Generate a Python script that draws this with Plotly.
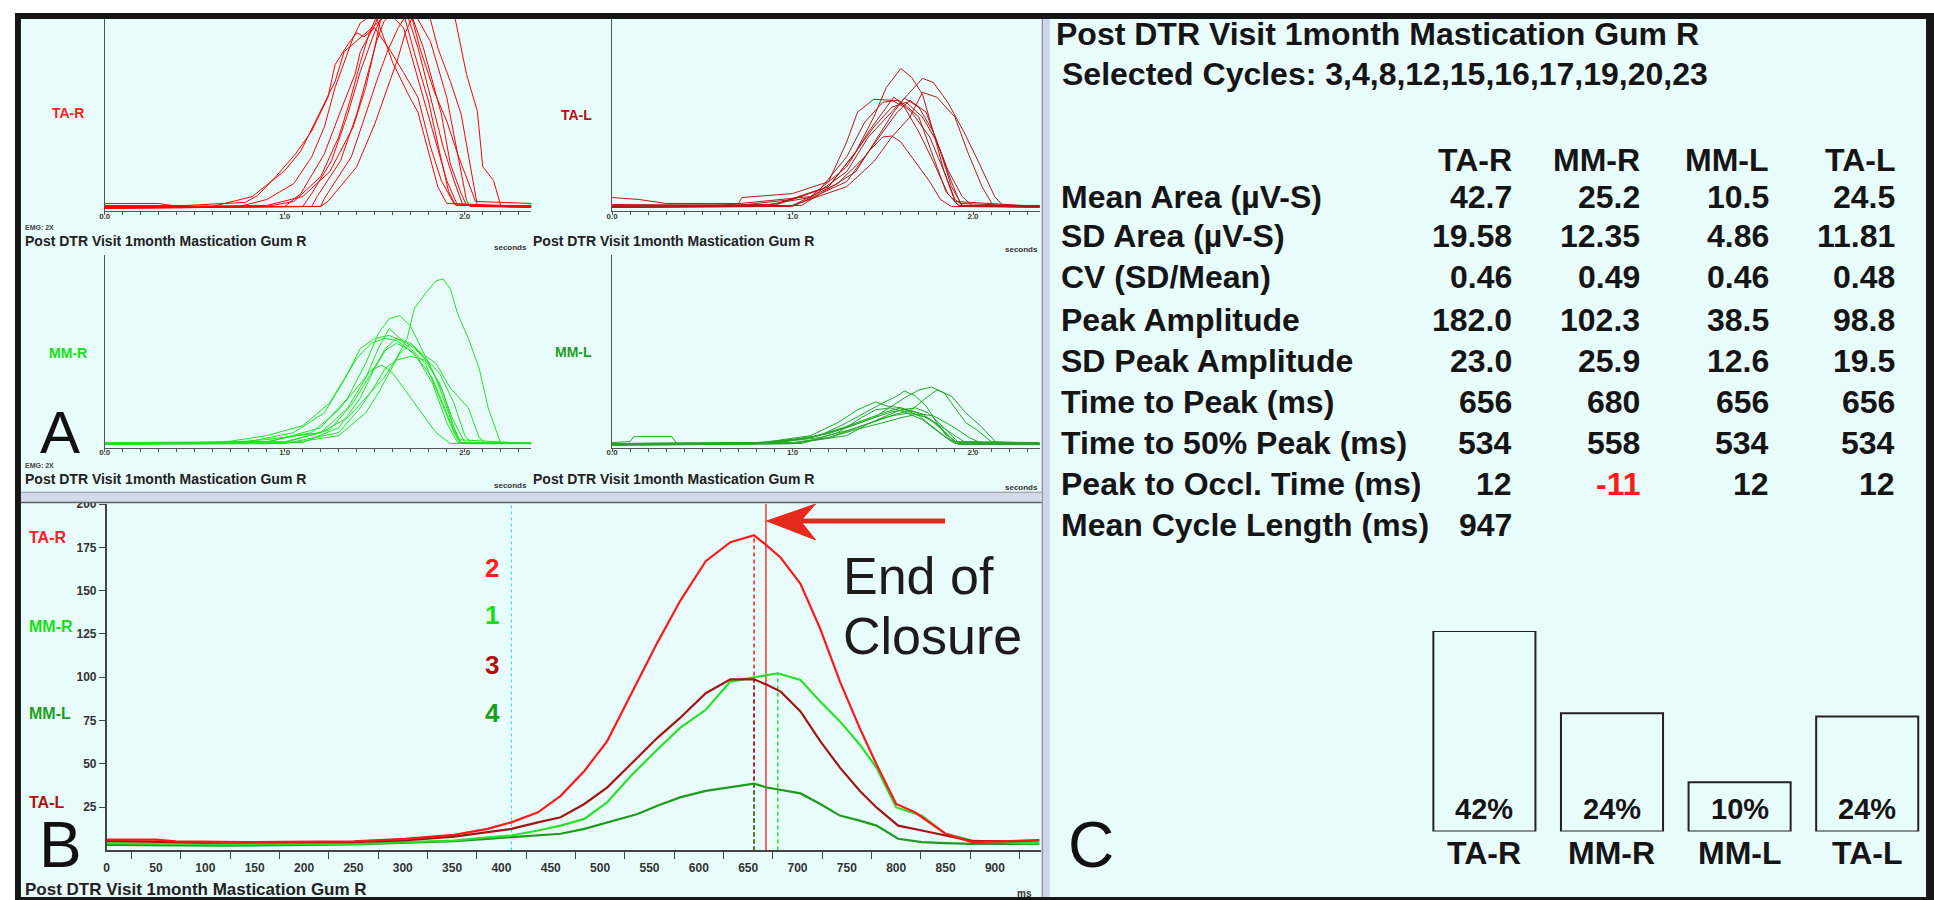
import plotly.graph_objects as go

W, H = 1934, 900
FONT = "Liberation Sans, Arial, Helvetica, sans-serif"
BG = "#E8FCFC"

# ---------------------------------------------------------------- data
muscles = ["TA-R", "MM-R", "MM-L", "TA-L"]
caption = "Post DTR Visit 1month Mastication Gum R"
selected_cycles = "Selected Cycles: 3,4,8,12,15,16,17,19,20,23"

# Panel A - individual selected cycles: (time in s, amplitude in display units)
ta_r_cycles = [
    [(0, 6), (0.45, 6), (0.78, 9), (0.85, 16), (0.95, 35), (1.06, 58), (1.15, 81), (1.24, 115), (1.28, 148), (1.35, 168), (1.40, 180), (1.44, 176), (1.50, 185), (1.59, 161), (1.66, 140), (1.74, 115), (1.81, 65), (1.87, 31), (1.94, 8), (2.1, 5), (2.37, 6)],
    [(0, 5), (0.6, 5), (0.82, 15), (1.0, 41), (1.09, 61), (1.20, 101), (1.28, 131), (1.33, 161), (1.44, 178), (1.52, 190), (1.58, 200), (1.66, 185), (1.77, 115), (1.85, 65), (1.90, 31), (1.96, 6), (2.37, 5)],
    [(0, 4), (1.0, 5), (1.09, 18), (1.22, 58), (1.31, 101), (1.39, 138), (1.42, 161), (1.50, 188), (1.55, 210), (1.65, 215), (1.74, 165), (1.81, 115), (1.88, 65), (1.94, 31), (1.99, 6), (2.37, 5)],
    [(0, 4), (1.1, 5), (1.15, 18), (1.26, 51), (1.35, 98), (1.42, 141), (1.50, 181), (1.56, 205), (1.68, 210), (1.77, 165), (1.87, 98), (1.92, 48), (1.98, 18), (2.01, 6), (2.37, 4)],
    [(0, 3), (1.15, 5), (1.18, 15), (1.31, 51), (1.40, 98), (1.46, 138), (1.51, 171), (1.55, 191), (1.62, 205), (1.72, 200), (1.81, 171), (1.90, 115), (1.96, 58), (2.01, 11), (2.03, 5), (2.37, 4)],
    [(0, 3), (1.2, 5), (1.22, 13), (1.37, 55), (1.45, 98), (1.51, 131), (1.57, 161), (1.63, 185), (1.70, 205), (1.80, 200), (1.85, 165), (1.92, 131), (1.98, 98), (2.03, 48), (2.07, 6), (2.37, 4)],
    [(0, 5), (1.2, 5), (1.24, 10), (1.40, 45), (1.50, 88), (1.57, 125), (1.63, 155), (1.67, 180), (1.72, 200), (1.90, 210), (1.94, 200), (2.01, 138), (2.07, 101), (2.10, 45), (2.16, 31), (2.20, 6), (2.37, 5)],
    [(0, 8), (0.3, 8), (0.4, 5), (0.9, 6), (1.1, 15), (1.25, 40), (1.38, 85), (1.45, 125), (1.50, 165), (1.54, 200), (1.70, 200), (1.75, 165), (1.83, 121), (1.90, 91), (1.96, 58), (2.06, 10), (2.37, 8)],
    [(0, 4), (0.75, 5), (0.9, 12), (1.05, 28), (1.15, 55), (1.22, 85), (1.28, 125), (1.33, 150), (1.38, 175), (1.42, 190), (1.50, 200), (1.60, 150), (1.68, 120), (1.74, 100), (1.80, 60), (1.85, 25), (1.90, 8), (2.37, 5)],
    [(0, 5), (0.9, 5), (1.05, 10), (1.20, 35), (1.30, 75), (1.36, 110), (1.42, 150), (1.47, 180), (1.52, 200), (1.66, 200), (1.72, 160), (1.80, 110), (1.86, 60), (1.91, 20), (1.95, 6), (2.37, 6)],
]
ta_l_cycles = [
    [(0, 5), (0.7, 6), (1.0, 12), (1.2, 25), (1.35, 60), (1.45, 95), (1.52, 125), (1.60, 144), (1.66, 135), (1.72, 118), (1.78, 80), (1.84, 40), (1.90, 12), (1.95, 5), (2.37, 5)],
    [(0, 4), (0.8, 5), (1.1, 14), (1.30, 40), (1.42, 75), (1.55, 100), (1.64, 118), (1.72, 134), (1.78, 130), (1.86, 110), (1.95, 80), (2.03, 50), (2.12, 15), (2.17, 5), (2.37, 6)],
    [(0, 14), (0.15, 12), (0.3, 8), (0.7, 8), (0.72, 14), (1.0, 18), (1.2, 30), (1.30, 70), (1.36, 100), (1.45, 113), (1.55, 112), (1.62, 105), (1.70, 80), (1.78, 50), (1.86, 18), (1.92, 6), (2.37, 5)],
    [(0, 6), (0.9, 7), (1.15, 22), (1.30, 55), (1.40, 90), (1.50, 110), (1.58, 112), (1.66, 100), (1.76, 75), (1.84, 40), (1.90, 10), (2.37, 5)],
    [(0, 5), (0.9, 6), (1.2, 25), (1.35, 60), (1.45, 85), (1.55, 105), (1.63, 110), (1.72, 95), (1.80, 70), (1.88, 30), (1.93, 8), (2.37, 5)],
    [(0, 4), (1.0, 6), (1.25, 28), (1.40, 55), (1.50, 80), (1.58, 100), (1.65, 112), (1.74, 100), (1.82, 60), (1.88, 25), (1.94, 6), (2.37, 4)],
    [(0, 5), (1.0, 6), (1.3, 25), (1.45, 50), (1.55, 75), (1.65, 95), (1.72, 120), (1.80, 115), (1.90, 95), (1.97, 60), (2.05, 25), (2.11, 6), (2.37, 5)],
    [(0, 4), (1.0, 5), (1.3, 30), (1.42, 60), (1.50, 75), (1.55, 76), (1.60, 70), (1.68, 50), (1.76, 30), (1.82, 12), (1.88, 5), (2.37, 4)],
    [(0, 7), (0.6, 6), (1.1, 15), (1.3, 45), (1.42, 80), (1.50, 100), (1.56, 115), (1.62, 108), (1.70, 95), (1.78, 55), (1.85, 20), (1.92, 6), (2.37, 6)],
    [(0, 5), (1.05, 6), (1.35, 40), (1.48, 78), (1.56, 100), (1.62, 114), (1.70, 105), (1.78, 80), (1.86, 42), (1.94, 15), (2.0, 5), (2.37, 5)],
]
mm_r_cycles = [
    [(0, 4), (0.6, 4), (0.9, 8), (1.2, 15), (1.35, 30), (1.45, 50), (1.55, 70), (1.62, 90), (1.68, 110), (1.72, 140), (1.78, 155), (1.84, 168), (1.88, 170), (1.92, 160), (1.96, 135), (2.02, 110), (2.08, 80), (2.13, 40), (2.18, 15), (2.2, 4), (2.37, 4)],
    [(0, 4), (0.65, 5), (0.9, 12), (1.1, 22), (1.25, 45), (1.35, 75), (1.42, 100), (1.50, 110), (1.58, 113), (1.64, 108), (1.70, 100), (1.78, 85), (1.86, 50), (1.94, 15), (1.98, 4), (2.37, 4)],
    [(0, 3), (0.8, 6), (1.05, 15), (1.22, 35), (1.32, 65), (1.40, 90), (1.48, 105), (1.55, 110), (1.62, 108), (1.72, 95), (1.82, 65), (1.90, 25), (1.96, 5), (2.37, 4)],
    [(0, 4), (0.9, 5), (1.2, 20), (1.35, 50), (1.45, 85), (1.52, 115), (1.58, 130), (1.64, 133), (1.70, 122), (1.76, 100), (1.84, 70), (1.92, 30), (1.97, 5), (2.37, 4)],
    [(0, 4), (1.0, 5), (1.25, 18), (1.38, 45), (1.48, 75), (1.56, 100), (1.62, 110), (1.70, 105), (1.78, 90), (1.86, 75), (1.94, 45), (2.00, 12), (2.04, 4), (2.37, 4)],
    [(0, 3), (1.0, 4), (1.3, 15), (1.42, 40), (1.50, 62), (1.56, 80), (1.62, 88), (1.70, 92), (1.78, 88), (1.86, 65), (1.93, 30), (2.00, 5), (2.37, 4)],
    [(0, 4), (1.05, 5), (1.3, 12), (1.45, 35), (1.52, 55), (1.58, 75), (1.64, 95), (1.70, 105), (1.76, 95), (1.84, 85), (1.92, 60), (2.02, 40), (2.08, 10), (2.12, 4), (2.37, 4)],
    [(0, 4), (0.9, 6), (1.15, 15), (1.30, 38), (1.40, 60), (1.48, 78), (1.54, 83), (1.60, 75), (1.68, 55), (1.76, 35), (1.84, 15), (1.92, 4), (2.37, 4)],
    [(0, 5), (1.0, 6), (1.2, 15), (1.35, 40), (1.45, 70), (1.52, 100), (1.58, 120), (1.64, 110), (1.72, 100), (1.80, 85), (1.88, 55), (1.94, 20), (1.98, 5), (2.37, 5)],
    [(0, 4), (1.1, 5), (1.3, 20), (1.42, 50), (1.50, 80), (1.56, 98), (1.62, 105), (1.68, 100), (1.74, 90), (1.82, 70), (1.90, 35), (1.96, 8), (2.37, 4)],
]
mm_l_cycles = [
    [(0, 4), (0.8, 4), (1.1, 10), (1.3, 20), (1.45, 30), (1.55, 42), (1.62, 50), (1.70, 58), (1.77, 61), (1.84, 55), (1.90, 40), (1.96, 25), (2.02, 18), (2.10, 6), (2.37, 4)],
    [(0, 3), (0.9, 4), (1.15, 12), (1.30, 25), (1.40, 35), (1.50, 45), (1.58, 52), (1.62, 57), (1.68, 52), (1.74, 42), (1.80, 25), (1.86, 10), (1.92, 3), (2.37, 3)],
    [(0, 5), (0.10, 6), (0.12, 11), (0.33, 11), (0.36, 4), (0.8, 4), (1.1, 12), (1.25, 25), (1.36, 38), (1.46, 46), (1.52, 42), (1.60, 40), (1.70, 32), (1.80, 18), (1.88, 6), (2.37, 5)],
    [(0, 3), (0.9, 5), (1.2, 14), (1.32, 22), (1.45, 30), (1.55, 36), (1.62, 38), (1.72, 34), (1.82, 20), (1.90, 6), (2.37, 3)],
    [(0, 4), (0.8, 5), (1.1, 10), (1.28, 20), (1.40, 28), (1.52, 36), (1.60, 40), (1.68, 36), (1.78, 26), (1.86, 12), (1.92, 4), (2.37, 4)],
    [(0, 2), (1.0, 4), (1.2, 10), (1.35, 20), (1.48, 28), (1.58, 34), (1.66, 38), (1.74, 50), (1.80, 58), (1.88, 52), (1.96, 35), (2.04, 22), (2.10, 10), (2.14, 3), (2.37, 3)],
    [(0, 3), (1.0, 4), (1.3, 12), (1.42, 24), (1.52, 32), (1.60, 38), (1.68, 40), (1.75, 35), (1.84, 20), (1.92, 5), (2.37, 3)],
    [(0, 4), (0.9, 5), (1.15, 10), (1.32, 18), (1.45, 26), (1.55, 32), (1.65, 35), (1.75, 30), (1.85, 18), (1.95, 6), (2.37, 4)],
    [(0, 3), (1.05, 4), (1.25, 15), (1.38, 30), (1.46, 38), (1.54, 40), (1.62, 36), (1.72, 28), (1.82, 14), (1.90, 4), (2.37, 3)],
    [(0, 4), (1.0, 5), (1.2, 10), (1.35, 18), (1.50, 25), (1.60, 30), (1.70, 34), (1.78, 32), (1.88, 22), (1.98, 10), (2.05, 4), (2.37, 4)],
]

# Panel B - averaged envelopes (ms, amplitude)
b_ms_ta_r = [0, 50, 70, 140, 250, 302, 352, 386, 410, 437, 460, 484, 507, 531, 558, 581, 607, 632, 656, 669, 683, 703, 723, 743, 763, 780, 800, 819, 850, 877, 925, 945]
b_amp_ta_r = [6.2, 6.2, 5.2, 4.8, 5.2, 6.7, 9.0, 12.4, 16.2, 22.0, 31.5, 45.9, 63.0, 89.8, 120.0, 144.0, 167.0, 178.0, 182.0, 176.0, 169.0, 154.0, 128.0, 97.5, 70.7, 49.7, 26.8, 22.0, 9.6, 4.8, 5.7, 5.9]
b_ms_ta_l = [0, 100, 250, 302, 352, 386, 410, 437, 460, 484, 507, 531, 558, 581, 607, 632, 656, 669, 683, 703, 723, 743, 763, 780, 802, 826, 850, 877, 925, 945]
b_amp_ta_l = [5.5, 4.5, 4.8, 5.7, 8.0, 10.5, 12.4, 16.2, 19.1, 26.8, 36.3, 49.7, 65.0, 76.5, 90.8, 98.8, 98.8, 95.6, 91.7, 80.3, 63.1, 47.8, 34.4, 24.8, 14.3, 11.5, 8.6, 5.4, 5.4, 5.7]
b_ms_mm_r = [0, 120, 250, 302, 352, 386, 410, 437, 460, 484, 507, 531, 558, 581, 607, 632, 654, 680, 703, 723, 743, 763, 780, 800, 826, 850, 877, 925, 945]
b_amp_mm_r = [4.2, 3.5, 3.8, 4.8, 5.7, 7.6, 8.6, 11.5, 14.3, 18.2, 27.7, 43.0, 58.3, 70.7, 81.2, 97.5, 99.9, 102.3, 98.4, 86.0, 74.5, 61.2, 47.8, 24.8, 20.0, 9.6, 5.7, 4.2, 4.2]
b_ms_mm_l = [0, 120, 250, 302, 352, 386, 410, 437, 460, 484, 507, 538, 558, 581, 607, 632, 656, 669, 683, 703, 723, 743, 763, 780, 802, 826, 850, 877, 945]
b_amp_mm_l = [3.2, 2.8, 3.4, 4.2, 5.4, 6.7, 7.6, 8.6, 9.6, 12.4, 16.2, 21.0, 25.8, 30.6, 34.4, 36.7, 38.5, 36.3, 34.8, 32.9, 26.8, 20.1, 17.2, 14.3, 6.7, 4.8, 4.2, 3.8, 3.8]

time_to_peak_ms = [656, 680, 656, 656]        # TA-R, MM-R, MM-L, TA-L
peak_amplitude = [182.0, 102.3, 38.5, 98.8]
onset_ms = 410
end_of_closure_ms = 668
mean_cycle_ms = 947
rank_rows = [("2", "TA-R"), ("1", "MM-R"), ("3", "TA-L"), ("4", "MM-L")]

# Panel C - table
row_labels = ["Mean Area (µV-S)", "SD Area (µV-S)", "CV (SD/Mean)", "Peak Amplitude",
              "SD Peak Amplitude", "Time to Peak (ms)", "Time to 50% Peak (ms)",
              "Peak to Occl. Time (ms)", "Mean Cycle Length (ms)"]
col_ta_r = ["42.7", "19.58", "0.46", "182.0", "23.0", "656", "534", "12", "947"]
col_mm_r = ["25.2", "12.35", "0.49", "102.3", "25.9", "680", "558", "-11", ""]
col_mm_l = ["10.5", "4.86", "0.46", "38.5", "12.6", "656", "534", "12", ""]
col_ta_l = ["24.5", "11.81", "0.48", "98.8", "19.5", "656", "534", "12", ""]
area_pct = [41.5, 24.5, 10.2, 23.8]
area_pct_labels = ["42%", "24%", "10%", "24%"]

# ---------------------------------------------------------------- styling
line_col = {"TA-R": "#FF0000", "MM-R": "#22E022", "MM-L": "#27A527", "TA-L": "#B51818"}
avg_col = {"TA-R": "#FF1A1A", "MM-R": "#2BE02B", "MM-L": "#1F9A1F", "TA-L": "#A01616"}
lab_col = {"TA-R": "#FF2020", "MM-R": "#14E014", "MM-L": "#1E9E1E", "TA-L": "#B01010"}


def px(x):
    return x / W


def py(y):
    return 1 - y / H


def ann(text, x, y, size, color="#1a1a1a", bold=True, xanchor="center", yanchor="middle", **kw):
    d = dict(text=text, x=px(x), y=py(y), xref="paper", yref="paper", showarrow=False,
             xanchor=xanchor, yanchor=yanchor,
             font=dict(family=FONT, size=size, color=color, weight="bold" if bold else "normal"))
    d.update(kw)
    return d


fig = go.Figure()

# ---- Panel A subplots
a_panels = [
    ("TA-R", ta_r_cycles, 1, (99, 527), (12, 206)),
    ("TA-L", ta_l_cycles, 2, (608, 1037), (12, 206)),
    ("MM-R", mm_r_cycles, 3, (99, 527), (250, 444)),
    ("MM-L", mm_l_cycles, 4, (608, 1037), (250, 444)),
]
layout_axes = {}
a_tickvals = [k / 10 for k in range(24)]
a_ticktext = ["0.0" if k == 0 else "1.0" if k == 10 else "2.0" if k == 20 else "" for k in range(24)]
for name, cycles, i, (x0, x1), (y0, y1) in a_panels:
    for cyc in cycles:
        fig.add_trace(go.Scatter(x=[p[0] for p in cyc], y=[p[1] for p in cyc], mode="lines",
                                 line=dict(color=line_col[name], width=1),
                                 xaxis=f"x{i}", yaxis=f"y{i}", hoverinfo="skip", showlegend=False))
    sfx = "" if i == 1 else str(i)
    layout_axes[f"xaxis{sfx}"] = dict(domain=[px(x0), px(x1)], range=[0, 2.37], anchor=f"y{i}",
                                      showline=True, linecolor="#555", linewidth=1, showgrid=False,
                                      zeroline=False, ticks="outside", ticklen=3, tickcolor="#555",
                                      tickmode="array", tickvals=a_tickvals, ticktext=a_ticktext,
                                      ticklabelstandoff=-6,
                                      tickfont=dict(family=FONT, size=8, color="#3a3a2a", weight="bold"),
                                      fixedrange=True)
    layout_axes[f"yaxis{sfx}"] = dict(domain=[py(y1), py(y0)], range=[0, 194], anchor=f"x{i}",
                                      showline=True, linecolor="#555", linewidth=1, showgrid=False,
                                      zeroline=False, showticklabels=False, ticks="", fixedrange=True)

# ---- Panel B
fig.add_trace(go.Scatter(x=[onset_ms, onset_ms], y=[0, 200], mode="lines",
                         line=dict(color="#2CCFE0", width=1, dash="3px,3px"),
                         xaxis="x5", yaxis="y5", hoverinfo="skip", showlegend=False))
for m in ["TA-R", "TA-L", "MM-L", "MM-R"]:
    k = muscles.index(m)
    fig.add_trace(go.Scatter(x=[time_to_peak_ms[k], time_to_peak_ms[k]], y=[0, peak_amplitude[k]],
                             mode="lines", line=dict(color=avg_col[m], width=1.5, dash="4px,3px"),
                             xaxis="x5", yaxis="y5", hoverinfo="skip", showlegend=False))
fig.add_trace(go.Scatter(x=[end_of_closure_ms, end_of_closure_ms], y=[0, 200], mode="lines",
                         line=dict(color="#F23A3A", width=1.5),
                         xaxis="x5", yaxis="y5", hoverinfo="skip", showlegend=False))
for m, xs, ys in [("MM-L", b_ms_mm_l, b_amp_mm_l), ("MM-R", b_ms_mm_r, b_amp_mm_r),
                  ("TA-L", b_ms_ta_l, b_amp_ta_l), ("TA-R", b_ms_ta_r, b_amp_ta_r)]:
    fig.add_trace(go.Scatter(x=xs, y=ys, mode="lines", line=dict(color=avg_col[m], width=2.2),
                             xaxis="x5", yaxis="y5", hoverinfo="skip", showlegend=False))

layout_axes["xaxis5"] = dict(domain=[px(101), px(1038.5)], range=[0, mean_cycle_ms], anchor="y5",
                             showline=True, linecolor="#444", linewidth=1.5, showgrid=False, zeroline=False,
                             tickmode="array", tickvals=list(range(0, 901, 50)),
                             ticks="outside", ticklen=5, tickcolor="rgba(0,0,0,0)",
                             minor=dict(tick0=25, dtick=50, ticks="outside", ticklen=7, tickcolor="#444", showgrid=False),
                             tickfont=dict(family=FONT, size=12, color="#333", weight="bold"), fixedrange=True)
layout_axes["yaxis5"] = dict(domain=[py(850), py(501)], range=[0, 200], anchor="x5",
                             showline=True, linecolor="#444", linewidth=1.5, showgrid=False, zeroline=False,
                             tickmode="array", tickvals=list(range(25, 201, 25)),
                             ticks="outside", ticklen=6, tickcolor="#444",
                             tickfont=dict(family=FONT, size=12, color="#333", weight="bold"), fixedrange=True)

# ---- Panel C bars
fig.add_trace(go.Bar(x=muscles, y=area_pct, width=0.8, marker=dict(color="rgba(0,0,0,0)",
                     line=dict(color="#222", width=2)), xaxis="x6", yaxis="y6",
                     hoverinfo="skip", showlegend=False))
layout_axes["xaxis6"] = dict(domain=[px(1419), px(1931)], range=[-0.5, 3.5], anchor="y6", visible=False,
                             type="category", fixedrange=True)
layout_axes["yaxis6"] = dict(domain=[py(831), py(629)], range=[0, 41.5], anchor="x6", visible=False,
                             fixedrange=True)

# ---------------------------------------------------------------- frame shapes
shapes = [
    dict(type="rect", xref="paper", yref="paper", x0=px(9), x1=px(1934), y0=py(900), y1=py(6),
         fillcolor="#161616", line=dict(width=0), layer="below"),
    dict(type="rect", xref="paper", yref="paper", x0=px(15), x1=px(1040), y0=py(897), y1=py(12),
         fillcolor=BG, line=dict(width=0), layer="below"),
    dict(type="rect", xref="paper", yref="paper", x0=px(1046), x1=px(1926), y0=py(897), y1=py(12),
         fillcolor=BG, line=dict(width=0), layer="below"),
    dict(type="rect", xref="paper", yref="paper", x0=px(1039), x1=px(1047), y0=py(897), y1=py(12),
         fillcolor="#CDD5E6", line=dict(width=0), layer="below"),
    dict(type="line", xref="paper", yref="paper", x0=px(1039.5), x1=px(1039.5), y0=py(897), y1=py(12),
         line=dict(color="#7A8090", width=1), layer="below"),
    dict(type="rect", xref="paper", yref="paper", x0=px(15), x1=px(1039), y0=py(500), y1=py(489),
         fillcolor="#D3DBE8", line=dict(width=0), layer="above"),
    dict(type="line", xref="paper", yref="paper", x0=px(15), x1=px(1039), y0=py(489), y1=py(489),
         line=dict(color="#8A909A", width=1), layer="above"),
    dict(type="line", xref="paper", yref="paper", x0=px(15), x1=px(1039), y0=py(499.5), y1=py(499.5),
         line=dict(color="#5E636C", width=1.5), layer="above"),
    # arrow pointing at end of closure
    dict(type="line", xref="paper", yref="paper", x0=px(796), x1=px(942), y0=py(518), y1=py(518),
         line=dict(color="#E42A1A", width=5), layer="above"),
    dict(type="path", xref="paper", yref="paper",
         path=f"M {px(763)} {py(518)} L {px(812)} {py(501)} L {px(797)} {py(518)} L {px(812)} {py(537)} Z",
         fillcolor="#E42A1A", line=dict(color="#E42A1A", width=1), layer="above"),
]

# ---------------------------------------------------------------- annotations
anns = []
# panel A labels & captions
anns += [ann("TA-R", 62, 107, 14, lab_col["TA-R"]), ann("TA-L", 572, 109, 14, lab_col["TA-L"]),
         ann("MM-R", 62, 349, 14, lab_col["MM-R"]), ann("MM-L", 569, 348, 14, lab_col["MM-L"])]
for (cx, cy) in [(17, 236), (527, 236), (17, 476), (527, 476)]:
    anns.append(ann(caption, cx, cy, 14, "#222", xanchor="left"))
anns += [ann("EMG: 2X", 17, 222, 7, "#444", xanchor="left"), ann("EMG: 2X", 17, 462, 7, "#444", xanchor="left")]
for (sx, sy) in [(525, 242), (1037, 244), (525, 482), (1037, 484)]:
    anns.append(ann("seconds", sx, sy, 8, "#333", xanchor="right"))
anns.append(ann("A", 54, 428, 60, "#111", bold=False, height=46))

# panel B labels
for m, yy in [("TA-R", 535), ("MM-R", 624), ("MM-L", 712), ("TA-L", 802)]:
    anns.append(ann(m, 21, yy, 16, lab_col[m], xanchor="left"))
for (txt, m), yy in zip(rank_rows, [565, 613, 663, 712]):
    anns.append(ann(txt, 488, yy, 26, lab_col[m]))
anns.append(ann("End of", 838, 573, 52, "#1c1c1c", bold=False, xanchor="left"))
anns.append(ann("Closure", 838, 634, 52, "#1c1c1c", bold=False, xanchor="left"))
anns.append(ann(caption, 17, 889, 17, "#222", xanchor="left"))
anns.append(ann("ms", 1022, 893, 10, "#333"))
anns.append(ann("B", 55, 845, 64, "#111", bold=False, height=50))

# panel C text table
anns.append(ann(caption, 1051, 27, 32, "#151515", xanchor="left"))
anns.append(ann(selected_cycles, 1057, 68, 32, "#151515", xanchor="left"))
col_right = [1513, 1641, 1770, 1897]
header_y = 154
row_y = [191, 231, 272, 315, 357, 398, 439, 481, 522]
for m, xr in zip(muscles, col_right):
    anns.append(ann(m, xr, header_y, 32, "#151515", xanchor="right"))
for lbl, yy in zip(row_labels, row_y):
    anns.append(ann(lbl, 1056, yy, 32, "#151515", xanchor="left"))
for col, xr in zip([col_ta_r, col_mm_r, col_mm_l, col_ta_l], col_right):
    for val, yy in zip(col, row_y):
        if val:
            anns.append(ann(val, xr, yy, 32, "#FF1A1A" if val.startswith("-") else "#151515", xanchor="right"))
# bar labels
for m, lab in zip(muscles, area_pct_labels):
    anns.append(dict(text=lab, x=m, xref="x6", y=py(808), yref="paper", showarrow=False,
                     xanchor="center", yanchor="middle",
                     font=dict(family=FONT, size=29, color="#151515", weight="bold")))
    anns.append(dict(text=m, x=m, xref="x6", y=py(853), yref="paper", showarrow=False,
                     xanchor="center", yanchor="middle",
                     font=dict(family=FONT, size=32, color="#151515", weight="bold")))
anns.append(ann("C", 1088, 845, 64, "#111", bold=False, height=50))

fig.update_layout(
    width=W, height=H, autosize=False,
    margin=dict(l=0, r=0, t=0, b=0, pad=0),
    paper_bgcolor="white", plot_bgcolor="rgba(0,0,0,0)",
    showlegend=False, shapes=shapes, annotations=anns,
    font=dict(family=FONT),
    **layout_axes,
)

fig.write_html("out.html", config={"displayModeBar": False},
               post_script="document.body.style.margin='0';document.body.style.overflow='hidden';")
